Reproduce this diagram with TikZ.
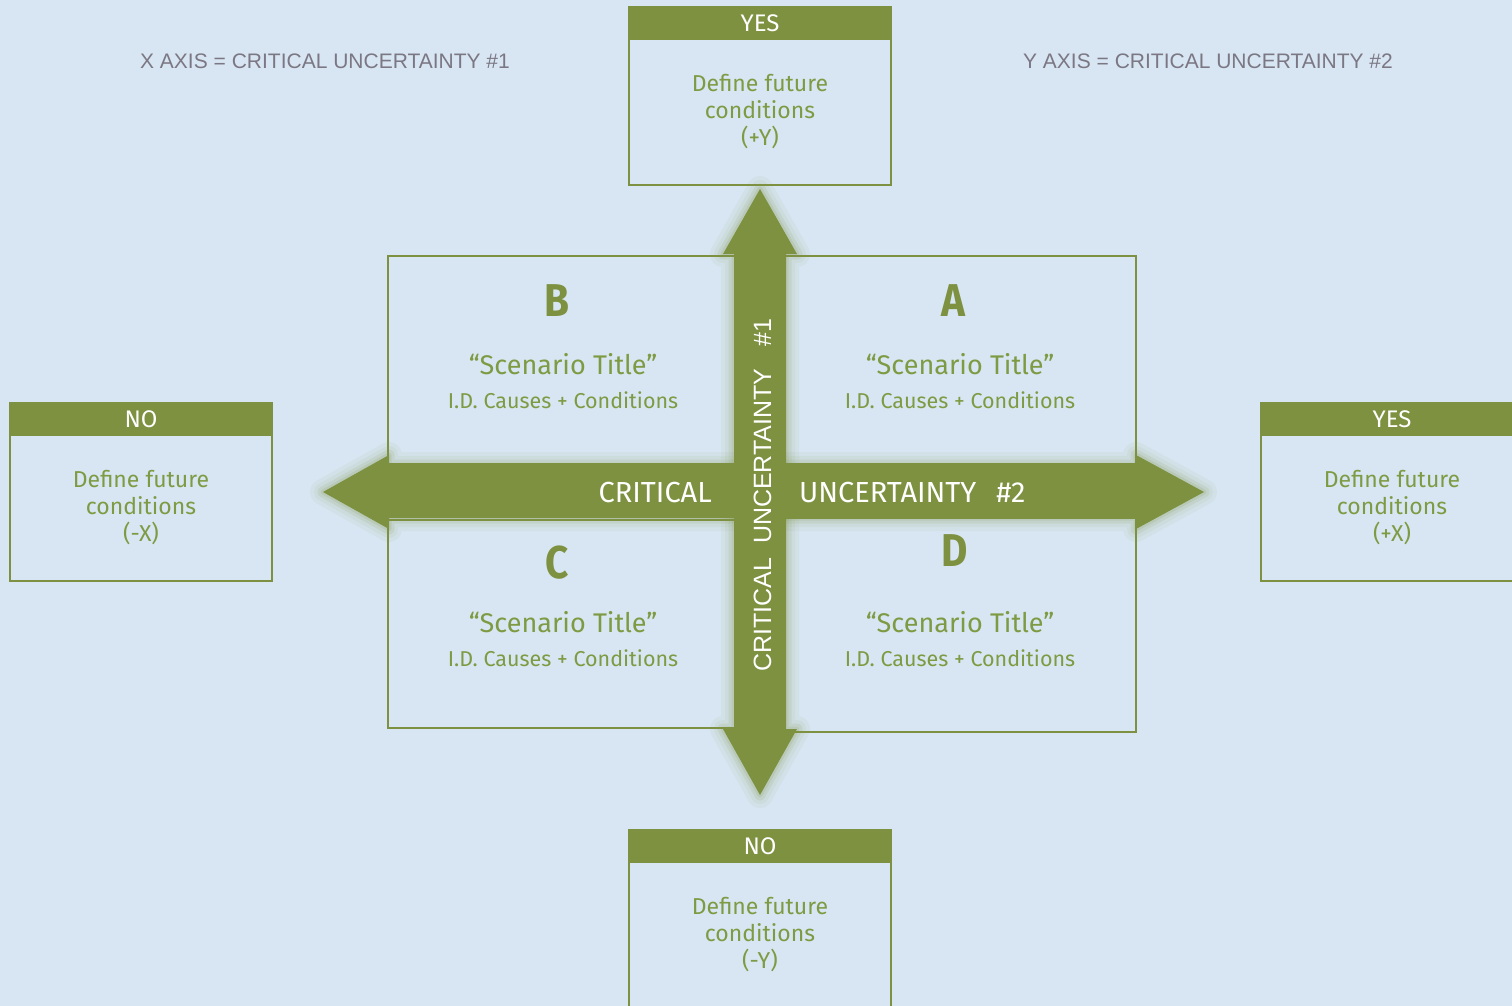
\documentclass[tikz,border=0pt]{standalone}
\usepackage{fontspec}
\setmainfont{Fira Sans}
\newfontfamily\condfont{Fira Sans}[FakeStretch=0.88]
\newfontfamily\vfont{Liberation Sans}
\definecolor{bg}{HTML}{D7E6F2}
\definecolor{olive}{HTML}{7D9140}
\definecolor{oltext}{HTML}{7E9A42}
\definecolor{grayt}{HTML}{7C7784}
\begin{document}
\begin{tikzpicture}[x=1pt,y=-1pt,
  hdr/.style={fill=olive, draw=olive, line width=2pt, minimum width=262pt, minimum height=32pt, inner sep=0pt, text=white, font=\fontsize{24}{28}\selectfont},
  condbox/.style={draw=olive, line width=2pt, minimum width=262pt, minimum height=146pt, inner sep=0pt, text=oltext, align=center, font=\fontsize{23}{27}\selectfont},
  quad/.style={draw=olive, line width=1.5pt, inner sep=0pt},
  letter/.style={text=olive, inner sep=0pt, anchor=base, font=\condfont\bfseries\fontsize{46}{50}\selectfont},
  stitle/.style={text=oltext, inner sep=0pt, anchor=base, font=\fontsize{27}{31}\selectfont},
  sub/.style={text=oltext, inner sep=0pt, anchor=base, font=\fontsize{21.5}{25}\selectfont},
  axlabel/.style={text=grayt, inner sep=0pt, anchor=base, font=\vfont\fontsize{21}{24}\selectfont},
  arrtext/.style={text=white, inner sep=0pt, font=\fontsize{29}{32}\selectfont},
  glow/.style={draw=olive, line join=round, opacity=#1}
]
\useasboundingbox (0,0) rectangle (1512,1006);
\fill[bg] (0,0) rectangle (1512,1006);
\clip (0,0) rectangle (1512,1006);

% axis definitions
\node[axlabel] (xlab) at (325,69) {X AXIS = CRITICAL UNCERTAINTY \#1};
\node[axlabel] (ylab) at (1208,69) {Y AXIS = CRITICAL UNCERTAINTY \#2};

% outer condition boxes
\node[condbox] (topbody) at (760,111.5) {Define future\\conditions\\(+Y)};
\node[hdr] (tophdr) at (760,23) {YES};
\node[condbox] (leftbody) at (141,507.5) {Define future\\conditions\\(-X)};
\node[hdr] (lefthdr) at (141,419) {NO};
\node[condbox] (rightbody) at (1392,507.5) {Define future\\conditions\\(+X)};
\node[hdr] (righthdr) at (1392,419) {YES};
\node[condbox] (botbody) at (760,934.5) {Define future\\conditions\\(-Y)};
\node[hdr] (bothdr) at (760,846) {NO};

% quadrants
\node[quad, minimum width=372pt, minimum height=208pt] (qB) at (574,360) {};
\node[quad, minimum width=376pt, minimum height=208pt] (qA) at (948,360) {};
\node[quad, minimum width=372pt, minimum height=208pt] (qC) at (574,624) {};
\node[quad, minimum width=376pt, minimum height=214pt] (qD) at (948,625) {};

\node[letter] (lB) at (557,316) {B};
\node[letter] (lA) at (953,316) {A};
\node[letter] (lC) at (557,578) {C};
\node[letter] (lD) at (955,566) {D};

\node[stitle] (tB) at (563,374) {“Scenario Title”};
\node[stitle] (tA) at (960,374) {“Scenario Title”};
\node[stitle] (tC) at (563,632) {“Scenario Title”};
\node[stitle] (tD) at (960,632) {“Scenario Title”};

\node[sub] (sB) at (563,408) {I.D. Causes + Conditions};
\node[sub] (sA) at (960,408) {I.D. Causes + Conditions};
\node[sub] (sC) at (563,666) {I.D. Causes + Conditions};
\node[sub] (sD) at (960,666) {I.D. Causes + Conditions};

% horizontal arrow
\foreach \w/\o in {26/0.05,18/0.07,11/0.1,5/0.15}{
  \draw[glow=\o, line width=\w pt] (323,492) -- (389,455) -- (389,465) -- (1136,465) -- (1136,455) -- (1204,492) -- (1136,529) -- (1136,518) -- (389,518) -- (389,529) -- cycle;
}
\fill[olive] (323,492) -- (389,455) -- (389,465) -- (1136,465) -- (1136,455) -- (1204,492) -- (1136,529) -- (1136,518) -- (389,518) -- (389,529) -- cycle;

% vertical arrow
\foreach \w/\o in {26/0.05,18/0.07,11/0.1,5/0.15}{
  \draw[glow=\o, line width=\w pt] (760,189) -- (797,254) -- (786,254) -- (786,729) -- (797,729) -- (760,795) -- (723,729) -- (734,729) -- (734,254) -- (723,254) -- cycle;
}
\fill[olive] (760,189) -- (797,254) -- (786,254) -- (786,729) -- (797,729) -- (760,795) -- (723,729) -- (734,729) -- (734,254) -- (723,254) -- cycle;

% arrow texts
\node[arrtext, anchor=base east] (hcrit) at (712,502) {CRITICAL};
\node[arrtext, anchor=base west] (hunc) at (799,502) {UNCERTAINTY\hspace{20pt}\#2};
\node[text=white, inner sep=0pt, rotate=90, anchor=base west, font=\vfont\fontsize{25}{28}\selectfont] (vtext) at (771,672) {CRITICAL\hspace{14pt}UNCERTAINTY\hspace{22pt}\#1};
\end{tikzpicture}
\end{document}
